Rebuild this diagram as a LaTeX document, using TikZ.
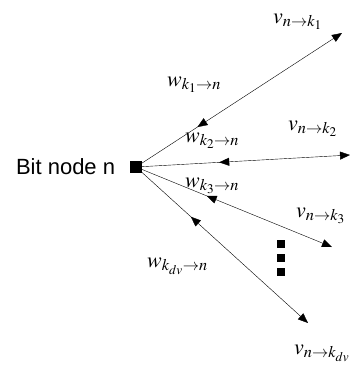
\documentclass[tikz,border=0pt]{standalone}
\usepackage{mathptmx}
\usepackage{fontspec}
\newfontfamily\arialfont{Liberation Sans}
\usetikzlibrary{positioning, arrows.meta, decorations.markings}

\tikzset{
  bitnode/.style={fill=black, draw=black, minimum size=11pt, inner sep=0pt},
  msglabel/.style={anchor=base west, inner sep=0pt, font=\fontsize{22}{26}\selectfont},
  dotbox/.style={fill=black, minimum size=8pt, inner sep=0pt},
  link/.style={draw, thin, ->, postaction={decorate},
    decoration={markings, mark=at position #1 with {\arrow{<}}}}
}

\begin{document}
\begin{tikzpicture}[x=1pt, y=-1pt, >={Triangle[length=10pt,width=8pt]}]
\useasboundingbox (0,0) rectangle (353,367);

\node[bitnode] (bit) at (136,167) {};
\node[left=15pt of bit, font=\arialfont\fontsize{22}{26}\selectfont, inner sep=0pt] (bitlabel) {Bit node n};

\coordinate (k1) at (342,33);
\coordinate (k2) at (350,155);
\coordinate (k3) at (332,247);
\coordinate (kdv) at (308,323);

\draw[link=0.32] (bit) -- (k1);
\draw[link=0.42] (bit) -- (k2);
\draw[link=0.39] (bit) -- (k3);
\draw[link=0.34] (bit) -- (kdv);

\node[msglabel] (v1) at (273,23) {$v_{n\rightarrow k_1}$};
\node[msglabel] (w1) at (167,86) {$w_{k_1\rightarrow n}$};
\node[msglabel] (v2) at (288,130) {$v_{n\rightarrow k_2}$};
\node[msglabel] (w2) at (185,142) {$w_{k_2\rightarrow n}$};
\node[msglabel] (w3) at (185,187) {$w_{k_3\rightarrow n}$};
\node[msglabel] (v3) at (296,217) {$v_{n\rightarrow k_3}$};
\node[msglabel] (wdv) at (147,267) {$w_{k_{dv}\rightarrow n}$};
\node[msglabel] (vdv) at (294,354) {$v_{n\rightarrow k_{dv}}$};

\node[dotbox] (dot1) at (281,244) {};
\node[dotbox, below=5.5pt of dot1] (dot2) {};
\node[dotbox, below=5.5pt of dot2] (dot3) {};
\end{tikzpicture}
\end{document}
